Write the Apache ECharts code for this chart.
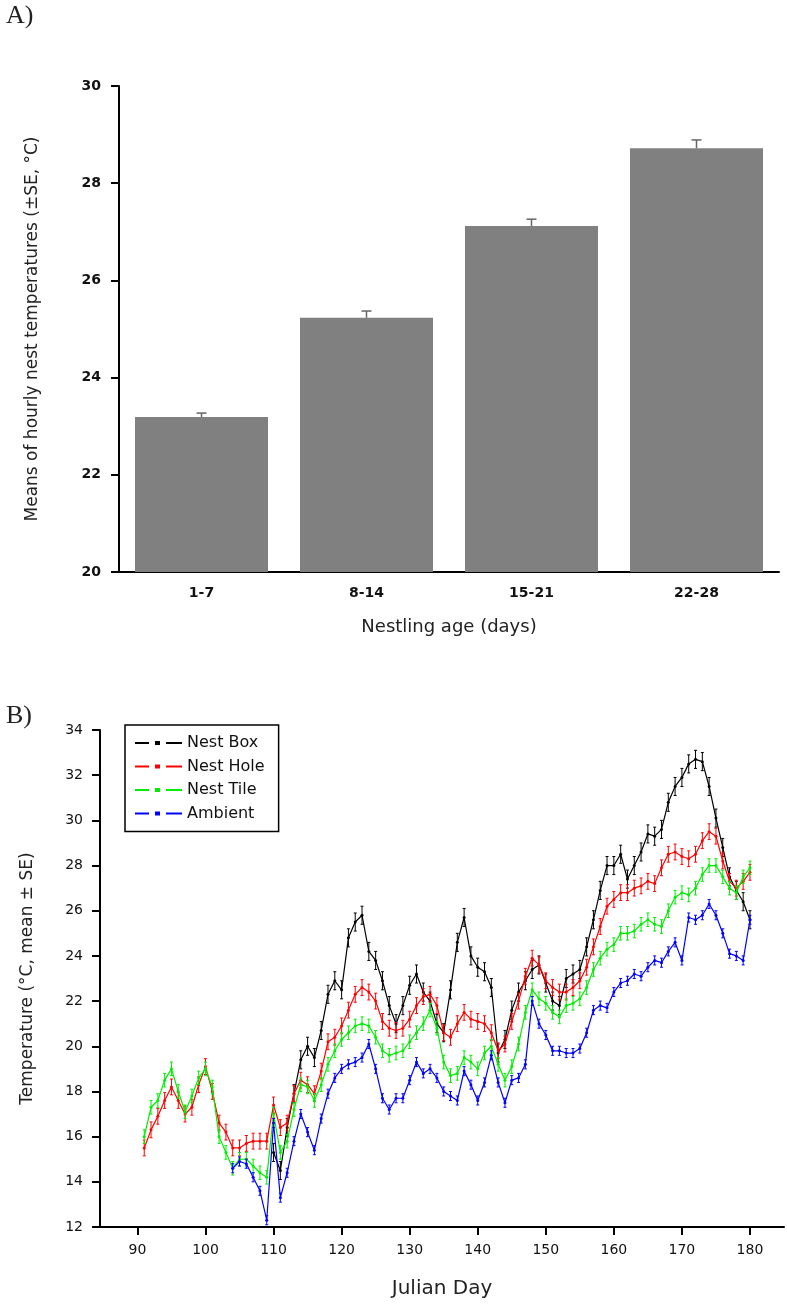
<!DOCTYPE html>
<html><head><meta charset="utf-8">
<script src="https://cdn.jsdelivr.net/npm/echarts@6/dist/echarts.min.js"></script>
<style>html,body{margin:0;padding:0;background:#fff}#c{width:787px;height:1305px}</style>
</head><body><div id="c"></div>
<script>
// ---------- Panel A data ----------
const ageGroups = ['1-7', '8-14', '15-21', '22-28'];
const nestMeans = [23.19, 25.23, 27.12, 28.72];
const nestSE = [0.08, 0.14, 0.14, 0.17];

// ---------- Panel B data ----------
const julianTicks = [90, 100, 110, 120, 130, 140, 150, 160, 170, 180];
const days = [91,92,93,94,95,96,97,98,99,100,101,102,103,104,105,106,107,108,109,110,
  111,112,113,114,115,116,117,118,119,120,121,122,123,124,125,126,127,128,129,130,
  131,132,133,134,135,136,137,138,139,140,141,142,143,144,145,146,147,148,149,150,
  151,152,153,154,155,156,157,158,159,160,161,162,163,164,165,166,167,168,169,170,
  171,172,173,174,175,176,177,178,179,180];
const seriesNames = ['Nest Box', 'Nest Hole', 'Nest Tile', 'Ambient'];
const seriesColors = ['#000000', '#ff0000', '#00ee00', '#0000ff'];
const seriesSE = [0.4, 0.35, 0.3, 0.2];
const nestBox = [null,null,null,null,null,null,null,null,null,null,
  null,null,null,null,null,null,null,null,null,15.3,
  14.5,16.4,17.9,19.4,20.0,19.5,20.7,22.3,22.9,22.5,
  24.8,25.5,25.8,24.2,23.8,22.9,21.8,21.0,21.8,22.7,
  23.2,22.4,22.0,21.0,20.6,22.5,24.6,25.7,24.0,23.5,
  23.3,22.6,19.7,20.3,21.6,22.4,22.9,23.4,23.6,22.8,
  22.0,21.8,23.0,23.2,23.4,24.4,25.6,26.9,28.0,28.0,
  28.5,27.4,28.0,28.6,29.4,29.3,29.6,30.8,31.5,31.9,
  32.5,32.7,32.6,31.5,30.1,28.8,27.5,26.9,26.4,25.6];
const nestHole = [15.5,16.3,16.9,17.6,18.2,17.6,17.0,17.3,18.3,19.1,
  18.0,16.6,16.2,15.5,15.5,15.7,15.8,15.8,15.8,17.4,
  16.4,16.6,17.9,18.5,18.3,17.9,18.9,20.2,20.4,20.9,
  21.6,22.3,22.6,22.4,22.0,21.1,20.8,20.7,20.8,21.2,
  21.8,22.2,22.3,21.8,20.6,20.4,21.0,21.5,21.2,21.1,
  21.0,20.6,19.8,20.1,21.1,22.0,23.1,23.9,23.6,22.9,
  22.6,22.4,22.4,22.6,22.9,23.5,24.4,25.3,26.2,26.5,
  26.8,26.8,27.0,27.1,27.3,27.2,27.9,28.5,28.6,28.4,
  28.3,28.5,29.1,29.5,29.3,28.2,27.3,27.0,27.3,27.7];
const nestTile = [16.0,17.3,17.6,18.5,19.0,18.0,17.1,17.8,18.6,19.0,
  18.2,16.0,15.3,14.6,15.0,15.0,14.7,14.4,14.2,17.0,
  15.3,15.8,17.2,18.3,18.2,17.6,18.3,19.2,19.8,20.3,
  20.6,20.9,21.0,20.9,20.4,19.8,19.6,19.7,19.8,20.2,
  20.6,21.0,21.6,20.8,19.3,18.7,18.8,19.5,19.3,19.0,
  19.7,20.0,19.2,18.5,19.1,20.1,21.5,22.5,22.1,21.9,
  21.5,21.3,21.8,21.9,22.1,22.6,23.4,23.9,24.3,24.5,
  25.0,25.0,25.1,25.4,25.6,25.4,25.3,26.0,26.6,26.8,
  26.7,27.0,27.6,28.0,28.0,27.5,27.0,26.8,27.5,27.9];
const ambient = [null,null,null,null,null,null,null,null,null,null,
  null,null,null,14.6,14.9,14.8,14.2,13.6,12.3,16.6,
  13.3,14.4,15.8,17.0,16.2,15.4,16.8,17.9,18.6,19.0,
  19.2,19.3,19.5,20.1,19.0,17.7,17.2,17.7,17.7,18.5,
  19.3,18.8,19.0,18.6,18.0,17.8,17.6,18.9,18.3,17.6,
  18.4,19.6,18.4,17.5,18.5,18.6,19.2,22.0,21.0,20.5,
  19.8,19.8,19.7,19.7,19.9,20.6,21.6,21.8,21.7,22.4,
  22.8,22.9,23.2,23.1,23.5,23.8,23.7,24.2,24.6,23.8,
  25.7,25.6,25.8,26.3,25.8,25.0,24.1,24.0,23.8,25.6];
const allSeries = [nestBox, nestHole, nestTile, ambient];

// ---------- build ----------
const chart = echarts.init(document.getElementById('c'), null, {renderer: 'canvas'});
const axisLine = {show: true, lineStyle: {color: '#000', width: 2}};
const tickStyle = {color: '#000', width: 2};
const dashIcon = 'path://M0,3h14v2H0z M20,2h5v4h-5z M31,3h16v2h-16z';

const series = [];
series.push({
  type: 'bar', xAxisIndex: 0, yAxisIndex: 0, data: nestMeans,
  barCategoryGap: '19.4%', itemStyle: {color: '#808080'}, z: 2
});
series.push({
  type: 'custom', xAxisIndex: 0, yAxisIndex: 0, z: 3,
  data: nestMeans.map((m, i) => [i, m, nestSE[i]]),
  renderItem: (params, api) => {
    const x = api.value(0), m = api.value(1), se = api.value(2);
    const top = api.coord([x, m + se]);
    const bot = api.coord([x, m]);
    const st = {stroke: '#666', lineWidth: 1.5};
    return {type: 'group', children: [
      {type: 'line', shape: {x1: top[0], y1: bot[1], x2: top[0], y2: top[1]}, style: st},
      {type: 'line', shape: {x1: top[0] - 5, y1: top[1], x2: top[0] + 5, y2: top[1]}, style: st}
    ]};
  }
});
allSeries.forEach((vals, k) => {
  const pts = days.map((d, i) => [d, vals[i]]);
  series.push({
    name: seriesNames[k] + ' SE', type: 'custom', xAxisIndex: 1, yAxisIndex: 1, z: 2 + k * 2,
    data: pts.filter(p => p[1] !== null).map(p => [p[0], p[1], seriesSE[k]]),
    renderItem: (params, api) => {
      const x = api.value(0), v = api.value(1), se = api.value(2);
      const a = api.coord([x, v + se]), b = api.coord([x, v - se]);
      const st = {stroke: seriesColors[k], lineWidth: 1};
      return {type: 'group', children: [
        {type: 'line', shape: {x1: a[0], y1: a[1], x2: b[0], y2: b[1]}, style: st},
        {type: 'line', shape: {x1: a[0] - 1.5, y1: a[1], x2: a[0] + 1.5, y2: a[1]}, style: st},
        {type: 'line', shape: {x1: b[0] - 1.5, y1: b[1], x2: b[0] + 1.5, y2: b[1]}, style: st}
      ]};
    }
  });
  series.push({
    name: seriesNames[k], type: 'line', xAxisIndex: 1, yAxisIndex: 1, z: 3 + k * 2,
    data: pts, connectNulls: false, symbol: 'circle', symbolSize: 3, showSymbol: true,
    lineStyle: {color: seriesColors[k], width: 1.2}, itemStyle: {color: seriesColors[k]}
  });
});

const option = {
  animation: false,
  backgroundColor: '#fff',
  textStyle: {fontFamily: 'DejaVu Sans'},
  grid: [
    {left: 119, top: 86, width: 660, height: 486},
    {left: 100, top: 730, width: 684, height: 497}
  ],
  xAxis: [
    {gridIndex: 0, type: 'category', data: ageGroups, axisLine: axisLine,
     axisTick: {show: false},
     axisLabel: {color: '#111', fontWeight: 'bold', fontSize: 14, margin: 14},
     name: 'Nestling age (days)', nameLocation: 'middle', nameGap: 46,
     nameTextStyle: {fontSize: 18, color: '#222'}},
    {gridIndex: 1, type: 'value', min: 84.5, max: 185, axisLine: axisLine,
     axisTick: {show: true, customValues: julianTicks, length: 8, lineStyle: tickStyle},
     axisLabel: {customValues: julianTicks, fontSize: 14, color: '#111', margin: 16},
     splitLine: {show: false},
     name: 'Julian Day', nameLocation: 'middle', nameGap: 52,
     nameTextStyle: {fontSize: 20, color: '#222'}}
  ],
  yAxis: [
    {gridIndex: 0, type: 'value', min: 20, max: 30, interval: 2, axisLine: axisLine,
     axisTick: {show: true, length: 8, lineStyle: tickStyle},
     axisLabel: {color: '#111', fontWeight: 'bold', fontSize: 14, margin: 18},
     splitLine: {show: false},
     name: 'Means of hourly nest temperatures (±SE, °C)', nameLocation: 'middle', nameGap: 78,
     nameTextStyle: {fontSize: 17, color: '#222'}},
    {gridIndex: 1, type: 'value', min: 12, max: 34, interval: 2, axisLine: axisLine,
     axisTick: {show: true, length: 8, lineStyle: tickStyle},
     axisLabel: {color: '#111', fontSize: 14, margin: 17},
     splitLine: {show: false},
     name: 'Temperature (°C, mean ± SE)', nameLocation: 'middle', nameGap: 64,
     nameTextStyle: {fontSize: 17, color: '#222'}}
  ],
  legend: {
    data: seriesNames.map(n => ({name: n, icon: dashIcon})),
    orient: 'vertical', left: 125, top: 725, padding: [10, 14, 10, 10],
    itemGap: 7.5, itemWidth: 47, itemHeight: 8,
    borderColor: '#000', borderWidth: 1.5, backgroundColor: '#fff',
    textStyle: {fontSize: 16, color: '#111', fontFamily: 'DejaVu Sans', lineHeight: 16}
  },
  graphic: [
    {type: 'text', left: 6, top: 3, style: {text: 'A)', font: '26px "Liberation Serif"', fill: '#222'}},
    {type: 'text', left: 6, top: 703, style: {text: 'B)', font: '26px "Liberation Serif"', fill: '#222'}}
  ],
  series: series
};
chart.setOption(option);
</script>
</body></html>
